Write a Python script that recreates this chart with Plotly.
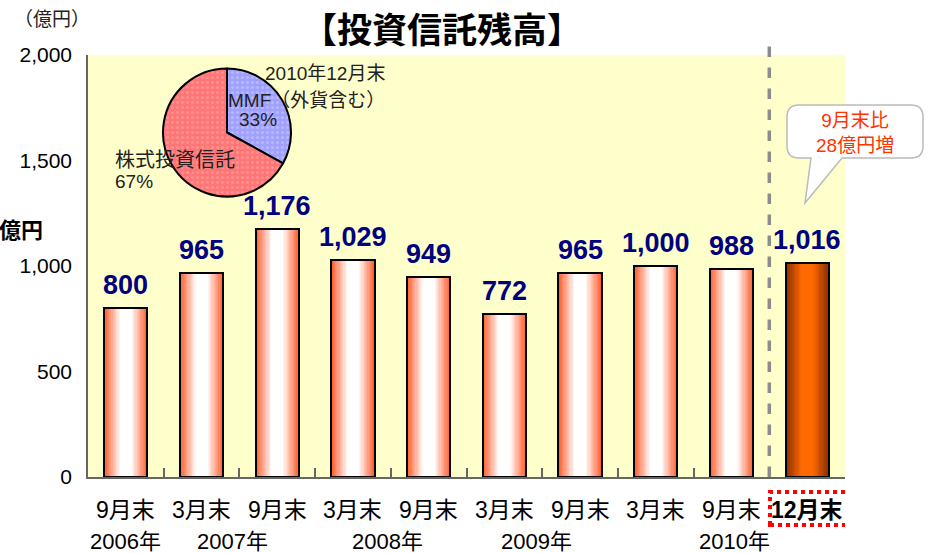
import plotly.graph_objects as go

# ---------------- data ----------------
periods = ["9月末", "3月末", "9月末", "3月末", "9月末", "3月末", "9月末", "3月末", "9月末", "12月末"]
values = [800, 965, 1176, 1029, 949, 772, 965, 1000, 988, 1016]
year_labels = ["2006年", "2007年", "2008年", "2009年", "2010年"]
year_pos = [0, 1.41, 3.45, 5.43, 8.04]
pie_labels = ["MMF（外貨含む）", "株式投資信託"]
pie_values = [33, 67]
y_ticks = [0, 500, 1000, 1500, 2000]

FONT = "Arial, 'Liberation Sans', 'Noto Sans CJK JP', sans-serif"
JFONT = "'Noto Sans CJK JP', Arial, sans-serif"

W_PX, H_PX = 934, 553
L, R, T, B = 88, 89, 55, 76
PW = W_PX - L - R
PH = H_PX - T - B


def px2paper(x, y):
    return (x - L) / PW, (H_PX - B - y) / PH


def hex2rgb(h):
    h = h.lstrip("#")
    return tuple(int(h[i:i + 2], 16) for i in (0, 2, 4))


def mix(c1, c2, t):
    a, b = hex2rgb(c1), hex2rgb(c2)
    return "rgb(%d,%d,%d)" % tuple(round(a[i] + (b[i] - a[i]) * t) for i in range(3))


xs = list(range(len(periods)))
n = len(periods)
BAR_W = 0.57
edge_cols = ["#FF6030"] * (n - 1) + ["#8E2E00"]
center_cols = ["#FFFFFF"] * (n - 1) + ["#FF6A00"]

fig = go.Figure()

# gradient layers (overlay bars of decreasing width)
N = 18
for k in range(N):
    t = k / N
    frac = 1 - t
    s = min(1.0, t / 0.72)
    cols = [mix(edge_cols[i], center_cols[i], s) for i in range(n)]
    fig.add_trace(go.Bar(x=xs, y=values, width=BAR_W * frac,
                         marker=dict(color=cols, line=dict(width=0)),
                         hoverinfo="skip", showlegend=False))

# outline
fig.add_trace(go.Bar(x=xs, y=values, width=BAR_W,
                     marker=dict(color="rgba(0,0,0,0)", line=dict(color="black", width=2)),
                     showlegend=False))

# pie
px0, py0 = px2paper(163, 197)
px1, py1 = px2paper(291, 68)
fig.add_trace(go.Pie(labels=pie_labels, values=pie_values, sort=False,
                     direction="clockwise", rotation=0,
                     domain=dict(x=[px0, px1], y=[py0, py1]),
                     textinfo="none", showlegend=False,
                     marker=dict(colors=["#A0A0FF", "#FF7676"],
                                 line=dict(color="black", width=2),
                                 pattern=dict(shape=".", bgcolor=["#A0A0FF", "#FF7676"],
                                              fgcolor=["#B8B8FF", "#FF9090"],
                                              size=5, solidity=0.3))))

annotations = []
# value labels
for x, v in zip(xs, values):
    annotations.append(dict(x=x, y=v, xref="x", yref="y", text="<b>%s</b>" % format(v, ","),
                            showarrow=False, yanchor="bottom", yshift=6,
                            font=dict(family=FONT, size=27, color="#000080")))
# category labels
for x, p in zip(xs, periods):
    bold = (x == n - 1)
    annotations.append(dict(x=x, y=px2paper(0, 510)[1], xref="x", yref="paper",
                            text="<b>%s</b>" % p if bold else p, showarrow=False,
                            yanchor="middle", xanchor="center",
                            font=dict(family=FONT, size=23, color="black")))
for x, yl in zip(year_pos, year_labels):
    annotations.append(dict(x=x, y=px2paper(0, 541)[1], xref="x", yref="paper",
                            text=yl, showarrow=False, yanchor="middle", xanchor="center",
                            font=dict(family=FONT, size=22, color="black")))

# title & unit labels
tx, ty = px2paper(442, 0)
annotations.append(dict(x=tx, y=ty, xref="paper", yref="paper", text="<b>【投資信託残高】</b>",
                        showarrow=False, xanchor="center", yanchor="top",
                        font=dict(family=JFONT, size=35, color="black")))
ux, uy = px2paper(12, 18)
annotations.append(dict(x=ux, y=uy, xref="paper", yref="paper", text="（億円）",
                        showarrow=False, xanchor="left", yanchor="middle",
                        font=dict(family=JFONT, size=19, color="#222")))
ox, oy = px2paper(45, 228)
annotations.append(dict(x=ox, y=oy, xref="paper", yref="paper", text="<b>億円</b>",
                        showarrow=False, xanchor="right", yanchor="middle",
                        font=dict(family=JFONT, size=22, color="black")))

# pie labels
def pie_ann(text, x, y, anchor="left", size=19):
    ax, ay = px2paper(x, y)
    annotations.append(dict(x=ax, y=ay, xref="paper", yref="paper", text=text,
                            showarrow=False, xanchor=anchor, yanchor="middle",
                            font=dict(family=FONT, size=size, color="#222")))

pie_ann("2010年12月末", 263, 74)
pie_ann(pie_labels[0], 226, 100)
pie_ann("%d%%" % pie_values[0], 258, 120, "center")
pie_ann(pie_labels[1], 113, 160, size=20)
pie_ann("%d%%" % pie_values[1], 134, 181, "center")

# callout text
cx, cy = px2paper(855, 133)
annotations.append(dict(x=cx, y=cy, xref="paper", yref="paper", text="9月末比<br>28億円増",
                        showarrow=False, xanchor="center", yanchor="middle",
                        font=dict(family=FONT, size=19, color="#FF3300")))

# callout shape path (rounded box with tail)
def P(x, y):
    a, b = px2paper(x, y)
    return "%.5f,%.5f" % (a, b)

bx0, bx1, by0, by1, r = 787, 923, 105, 158, 12
path = ("M " + P(bx0 + r, by0) + " L " + P(bx1 - r, by0) + " Q " + P(bx1, by0) + " " + P(bx1, by0 + r) +
        " L " + P(bx1, by1 - r) + " Q " + P(bx1, by1) + " " + P(bx1 - r, by1) +
        " L " + P(842, by1) + " L " + P(805, 203) + " L " + P(811, by1) +
        " L " + P(bx0 + r, by1) + " Q " + P(bx0, by1) + " " + P(bx0, by1 - r) +
        " L " + P(bx0, by0 + r) + " Q " + P(bx0, by0) + " " + P(bx0 + r, by0) + " Z")

shapes = [
    dict(type="path", path=path, xref="paper", yref="paper",
         fillcolor="white", line=dict(color="#BBBBBB", width=1.5)),
    dict(type="line", xref="x", yref="paper", x0=n - 1.5, x1=n - 1.5, y0=0,
         y1=px2paper(0, 44)[1], line=dict(color="#8C8C8C", width=3.5, dash="dash")),
]
bxa = (770 - L) / (PW / n) - 0.5
bxb = (863 - L) / (PW / n) - 0.5
shapes.append(dict(type="rect", xref="x", yref="paper", x0=bxa, x1=bxb,
                   y0=px2paper(0, 525)[1], y1=px2paper(0, 492)[1],
                   line=dict(color="#FF0000", width=4, dash="dot")))

fig.update_layout(
    width=W_PX, height=H_PX,
    margin=dict(l=L, r=R, t=T, b=B),
    paper_bgcolor="white",
    plot_bgcolor="#FFFFCC",
    barmode="overlay",
    bargap=0,
    showlegend=False,
    annotations=annotations,
    shapes=shapes,
    font=dict(family=FONT),
    xaxis=dict(range=[-0.5, n - 0.5], showgrid=False, zeroline=False,
               showline=True, linecolor="#666", linewidth=1.5,
               tickvals=[i - 0.5 for i in range(n + 1)], showticklabels=False,
               ticks="inside", ticklen=9, tickcolor="#666", tickwidth=1.5,
               fixedrange=True),
    yaxis=dict(range=[0, 2000], tickvals=y_ticks, tickformat=",", showgrid=False,
               zeroline=False, showline=True, linecolor="#666", linewidth=1.5,
               ticks="outside", ticklen=10, tickcolor="rgba(0,0,0,0)",
               tickfont=dict(family=FONT, size=21, color="black"), fixedrange=True),
)

fig.write_html("out.html", config={"displayModeBar": False},
               post_script="document.body.style.margin='0';document.body.style.overflow='hidden';")
